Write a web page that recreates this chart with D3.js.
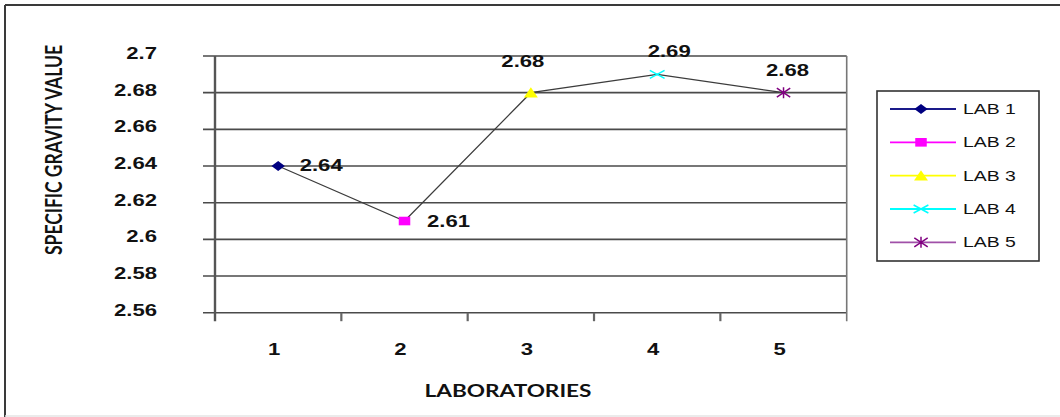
<!DOCTYPE html>
<html>
<head>
<meta charset="utf-8">
<script src="https://cdn.jsdelivr.net/npm/d3@7/dist/d3.min.js"></script>
<style>
  html, body { margin: 0; padding: 0; background: #fff; }
  svg { display: block; }
</style>
</head>
<body>
<svg id="chart" width="1060" height="417"></svg>
<script>
// ---- data ----
const categories = [1, 2, 3, 4, 5];
const seriesNames = ["LAB 1", "LAB 2", "LAB 3", "LAB 4", "LAB 5"];
const values = [2.64, 2.61, 2.68, 2.69, 2.68];
const yTickValues = [2.56, 2.58, 2.6, 2.62, 2.64, 2.66, 2.68, 2.7];
const yTickLabels = ["2.56", "2.58", "2.6", "2.62", "2.64", "2.66", "2.68", "2.7"];
const valueLabels = ["2.64", "2.61", "2.68", "2.69", "2.68"];

// ---- styling ----
const seriesColors = ["#000080", "#FF00FF", "#FFFF00", "#00FFFF", "#800080"];
const legendLineColors = ["#1a1a8a", "#FF00FF", "#FFFF00", "#00FFFF", "#a050a8"];
const markerKinds = ["diamond", "square", "triangle", "x", "star"];
// per-point label placement relative to its marker (dx, dy of text centre)
const labelOffsets = [[43, -1], [44, 0], [-8, -32], [12, -23], [4, -23]];

const SX = 1.34;              // horizontal glyph stretch used by all text
const boldFont = "'Liberation Sans', Arial, sans-serif";
const titleFont = "Lato, 'Open Sans', sans-serif";

const svg = d3.select("#chart");
svg.append("rect").attr("width", 1060).attr("height", 417).attr("fill", "#fff");

// outer frame
svg.append("line").attr("x1", 5).attr("y1", 5).attr("x2", 1060).attr("y2", 5)
  .attr("stroke", "#3a3a3a").attr("stroke-width", 2);
svg.append("line").attr("x1", 5).attr("y1", 5).attr("x2", 5).attr("y2", 417)
  .attr("stroke", "#3a3a3a").attr("stroke-width", 2);
svg.append("line").attr("x1", 5).attr("y1", 416).attr("x2", 1060).attr("y2", 416)
  .attr("stroke", "#e4e4e4").attr("stroke-width", 1.5);

// ---- scales ----
const plot = { left: 215, right: 846.7, top: 56, bottom: 312.7 };
const x = d3.scaleBand().domain(categories).range([plot.left, plot.right]).paddingInner(0).paddingOuter(0);
const y = d3.scaleLinear().domain([2.56, 2.7]).range([plot.bottom, plot.top]);
const cx = d => x(d) + x.bandwidth() / 2;

// horizontal gridlines (with outward ticks on the left)
svg.append("g").selectAll("line").data(yTickValues).join("line")
  .attr("x1", plot.left - 12).attr("x2", plot.right)
  .attr("y1", d => y(d)).attr("y2", d => y(d))
  .attr("stroke", "#4a4a4a").attr("stroke-width", 1.6);

// y axis line and right edge
svg.append("line").attr("x1", plot.left).attr("x2", plot.left)
  .attr("y1", plot.top).attr("y2", plot.bottom + 8.5)
  .attr("stroke", "#555").attr("stroke-width", 2.4);
svg.append("line").attr("x1", plot.right).attr("x2", plot.right)
  .attr("y1", plot.top).attr("y2", plot.bottom + 8.5)
  .attr("stroke", "#777").attr("stroke-width", 1.6);

// x tick marks at category boundaries
const xEdges = categories.map(d => x(d)).concat([plot.right]);
svg.append("g").selectAll("line").data(xEdges.slice(1, -1)).join("line")
  .attr("x1", d => d).attr("x2", d => d)
  .attr("y1", plot.bottom).attr("y2", plot.bottom + 8.5)
  .attr("stroke", "#666").attr("stroke-width", 2.2);

// y tick labels
svg.append("g").selectAll("text").data(yTickValues).join("text")
  .attr("transform", d => `translate(157,${y(d) - 3}) scale(${SX},1)`)
  .attr("text-anchor", "end").attr("dominant-baseline", "central")
  .attr("font-family", boldFont).attr("font-weight", "bold").attr("font-size", 16.5)
  .attr("fill", "#111")
  .text((d, i) => yTickLabels[i]);

// x category labels
svg.append("g").selectAll("text").data(categories).join("text")
  .attr("transform", d => `translate(${cx(d) - 4},349) scale(${SX},1)`)
  .attr("text-anchor", "middle").attr("dominant-baseline", "central")
  .attr("font-family", boldFont).attr("font-weight", "bold").attr("font-size", 16.5)
  .attr("fill", "#111")
  .text(d => String(d));

// axis titles
svg.append("text")
  .attr("transform", `translate(508,390) scale(${SX},1)`)
  .attr("text-anchor", "middle").attr("dominant-baseline", "central")
  .attr("font-family", titleFont).attr("font-weight", "bold").attr("font-size", 17)
  .attr("textLength", 124.5).attr("lengthAdjust", "spacingAndGlyphs")
  .attr("fill", "#111")
  .text("LABORATORIES");

svg.append("text")
  .attr("transform", `translate(52.5,150) scale(${SX},1) rotate(-90)`)
  .attr("text-anchor", "middle").attr("dominant-baseline", "central")
  .attr("font-family", titleFont).attr("font-weight", "bold").attr("font-size", 17)
  .attr("textLength", 210).attr("lengthAdjust", "spacingAndGlyphs")
  .attr("fill", "#111")
  .text("SPECIFIC GRAVITY VALUE");

// ---- connecting line ----
const line = d3.line().x((d, i) => cx(categories[i])).y(d => y(d));
svg.append("path").datum(values).attr("d", line)
  .attr("fill", "none").attr("stroke", "#3c3c3c").attr("stroke-width", 1.3);

// ---- markers ----
function drawMarker(g, kind, color) {
  if (kind === "diamond") {
    g.append("path").attr("d", "M0,-5L5,0L0,5L-5,0Z").attr("fill", color);
  } else if (kind === "square") {
    g.append("path").attr("d", "M-4.3,-4.3H4.3V4.3H-4.3Z").attr("fill", color);
  } else if (kind === "triangle") {
    g.append("path").attr("d", "M0,-5.5L5.2,4.8L-5.2,4.8Z").attr("fill", color);
  } else if (kind === "x") {
    g.append("path").attr("d", "M-5.5,-4L5.5,4M-5.5,4L5.5,-4")
      .attr("stroke", color).attr("stroke-width", 1.5).attr("fill", "none")
      .attr("vector-effect", "non-scaling-stroke");
  } else if (kind === "star") {
    g.append("path").attr("d", "M-5,-4.5L5,4.5M-5,4.5L5,-4.5M0,-5.5V5.5")
      .attr("stroke", color).attr("stroke-width", 1.5).attr("fill", "none")
      .attr("vector-effect", "non-scaling-stroke");
  }
}

categories.forEach((c, i) => {
  const g = svg.append("g")
    .attr("transform", `translate(${cx(c)},${y(values[i])}) scale(${SX},1)`);
  drawMarker(g, markerKinds[i], seriesColors[i]);
});

// ---- value labels ----
svg.append("g").selectAll("text").data(values).join("text")
  .attr("transform", (d, i) =>
    `translate(${cx(categories[i]) + labelOffsets[i][0]},${y(d) + labelOffsets[i][1]}) scale(${SX},1)`)
  .attr("text-anchor", "middle").attr("dominant-baseline", "central")
  .attr("font-family", boldFont).attr("font-weight", "bold").attr("font-size", 16.5)
  .attr("fill", "#111")
  .text((d, i) => valueLabels[i]);

// ---- legend ----
const legend = svg.append("g");
legend.append("rect").attr("x", 877).attr("y", 91).attr("width", 162).attr("height", 170)
  .attr("fill", "#fff").attr("stroke", "#333").attr("stroke-width", 1.6);

const rowY = d3.scalePoint().domain(seriesNames).range([109, 242.3]);
seriesNames.forEach((name, i) => {
  const yy = rowY(name);
  legend.append("line").attr("x1", 890).attr("x2", 956).attr("y1", yy).attr("y2", yy)
    .attr("stroke", legendLineColors[i]).attr("stroke-width", 1.8);
  const g = legend.append("g").attr("transform", `translate(921,${yy}) scale(${SX},1)`);
  drawMarker(g, markerKinds[i], seriesColors[i]);
  legend.append("text")
    .attr("transform", `translate(963,${yy}) scale(${SX},1)`)
    .attr("dominant-baseline", "central")
    .attr("font-family", boldFont).attr("font-size", 14.5)
    .attr("fill", "#111")
    .text(name);
});
</script>
</body>
</html>
